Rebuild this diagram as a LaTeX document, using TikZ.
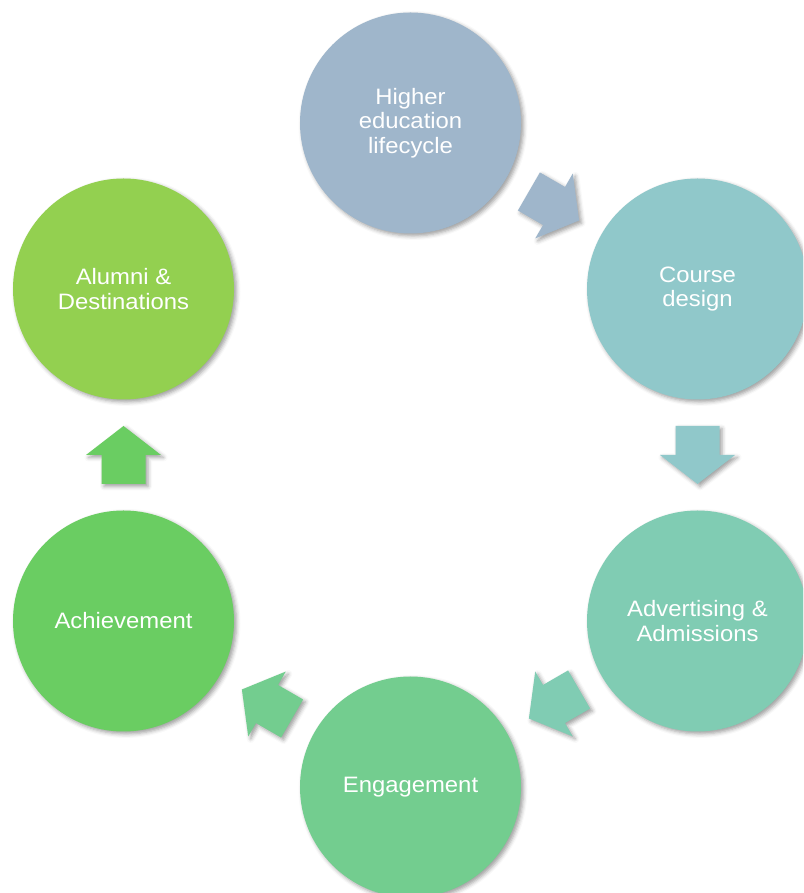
\documentclass[tikz,border=0pt]{standalone}
\usepackage{fontspec}
\setmainfont[FakeStretch=1.07]{Liberation Sans}
\usetikzlibrary{calc,shadows.blur}
\definecolor{cA}{HTML}{9FB6CB}
\definecolor{cB}{HTML}{90C8CA}
\definecolor{cC}{HTML}{80CCB3}
\definecolor{cD}{HTML}{73CD8F}
\definecolor{cE}{HTML}{6ACD62}
\definecolor{cF}{HTML}{93D050}
\tikzset{
  softshadow/.style={blur shadow={shadow xshift=2.5pt,shadow yshift=-2.5pt,shadow blur radius=4pt,shadow opacity=38}},
  stage/.style={circle,minimum size=221pt,inner sep=0pt,text=white,align=center,
    font=\fontsize{22.3}{24.5}\selectfont,softshadow},
  blockarrow/.pic={
    \path[pic actions,softshadow] (-29,-22) -- (0,-22) -- (0,-37.5) -- (29,0) -- (0,37.5) -- (0,22) -- (-29,22) -- cycle;
  }
}
\begin{document}
\begin{tikzpicture}[x=1pt,y=1pt]
\useasboundingbox (0,0) rectangle (803,893);
\clip (0,0) rectangle (803,893);
\node[stage,fill=cA] (c1) at (410.5,770) {Higher\\education\\lifecycle};
\node[stage,fill=cB] (c2) at (697.5,604) {Course\\design};
\node[stage,fill=cC] (c3) at (697.5,272) {Advertising \&\\Admissions};
\node[stage,fill=cD] (c4) at (410.5,106) {Engagement};
\node[stage,fill=cE] (c5) at (123.5,272) {Achievement};
\node[stage,fill=cF] (c6) at (123.5,604) {Alumni \&\\Destinations};
\foreach \a/\b/\col in {c1/c2/cA,c2/c3/cB,c3/c4/cC,c4/c5/cD,c5/c6/cE}{
  \path let \p1=($(\b)-(\a)$), \n1={atan2(\y1,\x1)} in
    pic[rotate=\n1,fill=\col] at ($(\a)!0.5!(\b)$) {blockarrow};
}
\end{tikzpicture}
\end{document}
